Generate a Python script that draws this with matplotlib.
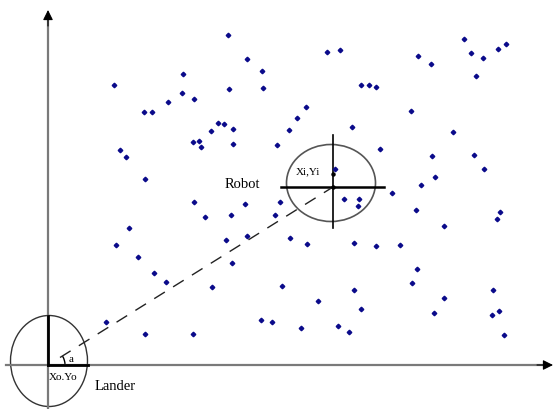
import matplotlib.pyplot as plt
from matplotlib.patches import Ellipse, Arc

# scatter points (image coordinates, y grows downward)
pts_x = [228, 247, 262, 183, 114, 229, 263, 182, 194, 168, 144, 152, 218, 224, 233,
         211, 193, 199, 201, 233, 277, 120, 126, 145, 194, 245, 280,
         464, 327, 340, 471, 498, 506, 483, 418, 431, 476, 361, 369, 376, 306,
         297, 289, 411, 352, 453, 380, 432, 474, 484, 335, 435, 421, 392, 344,
         359, 358, 416,
         205, 231, 275, 129, 116, 226, 247, 138, 232, 154, 166, 212, 106, 145,
         193, 261, 272,
         500, 497, 444, 290, 307, 354, 376, 400, 417, 412, 282, 354, 493, 318,
         444, 361, 434, 492, 499, 301, 338, 349, 504]
pts_y = [35, 59, 71, 74, 85, 89, 88, 93, 99, 102, 112, 112, 123, 124, 129,
         131, 142, 141, 147, 144, 145, 150, 157, 179, 202, 204, 202,
         39, 52, 50, 53, 49, 44, 58, 56, 64, 76, 85, 85, 87, 107,
         118, 130, 111, 127, 132, 149, 156, 155, 169, 169, 177, 185, 193, 199,
         199, 206, 210,
         217, 215, 215, 228, 245, 240, 236, 257, 263, 273, 282, 287, 322, 334,
         334, 320, 322,
         212, 219, 226, 238, 244, 243, 246, 245, 269, 283, 286, 290, 290, 301,
         298, 309, 313, 315, 311, 328, 326, 332, 335]

lander = (48, 365)
robot = (333, 187)

fig = plt.figure(figsize=(5.53, 4.09), dpi=100)
ax = fig.add_axes([0, 0, 1, 1])
ax.set_xlim(0, 553)
ax.set_ylim(409, 0)
ax.axis('off')

axis_col = '#7a7a7a'
# coordinate axes: gray shafts, black arrow heads
ax.plot([48, 48], [409, 20], color=axis_col, lw=1.6)
ax.plot([6, 544], [365, 365], color=axis_col, lw=1.6)
ax.annotate('', xy=(48, 10), xytext=(48, 26),
            arrowprops=dict(arrowstyle='-|>', color='black', lw=0.8,
                            mutation_scale=15, shrinkA=0, shrinkB=0))
ax.annotate('', xy=(553, 365), xytext=(537, 365),
            arrowprops=dict(arrowstyle='-|>', color='black', lw=0.8,
                            mutation_scale=15, shrinkA=0, shrinkB=0))

# lander ellipse
ax.add_patch(Ellipse((49, 361), 77, 91, fill=False, ec='#333333', lw=1.0))
ax.plot([48, 48], [316, 365], color='black', lw=2)
ax.plot([48, 88], [365, 365], color='black', lw=2)
ax.add_patch(Arc(lander, 34, 34, angle=0, theta1=-32, theta2=0,
                 color='black', lw=1.0))

# robot ellipse
ax.add_patch(Ellipse((331, 183), 89, 77, fill=False, ec='#555555', lw=1.2))
ax.plot([281, 384], [186.5, 186.5], color='black', lw=1.8)
ax.plot([333, 333], [135, 228], color='black', lw=1.2)

# dashed line lander -> robot
ax.plot([60, robot[0]], [357.5, robot[1]], color='#222222', lw=1.0,
        dashes=(9, 7))

ax.plot(pts_x, pts_y, linestyle='none', marker='D', markersize=2.3,
        color='#0a0a8a')
ax.plot([333, 333], [174, 186.5], linestyle='none', marker='o',
        markersize=2.2, color='black')

tf = dict(family='Liberation Serif', color='black')
ax.text(242, 184, 'Robot', fontsize=10.5, ha='center', va='center', **tf)
ax.text(308, 172, 'Xi,Yi', fontsize=8, ha='center', va='center', **tf)
ax.text(63, 378, 'Xo.Yo', fontsize=8, ha='center', va='center', **tf)
ax.text(115, 386, 'Lander', fontsize=10.5, ha='center', va='center', **tf)
ax.text(71, 359, 'a', fontsize=8, ha='center', va='center', **tf)

fig.savefig('out.png', dpi=100, facecolor='white')
